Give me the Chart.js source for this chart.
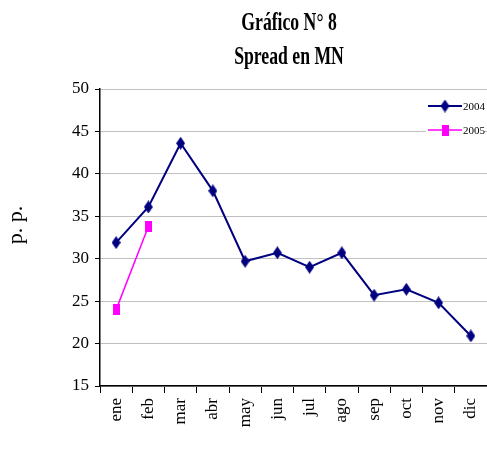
<!DOCTYPE html>
<html>
<head>
<meta charset="utf-8">
<script src="https://cdn.jsdelivr.net/npm/chart.js@4/dist/chart.umd.min.js"></script>
<style>
  html, body { margin: 0; padding: 0; background: #fff; }
  #wrap { width: 487px; height: 453px; }
</style>
</head>
<body>
<div id="wrap"><canvas id="spreadChart" width="487" height="453"></canvas></div>
<script>
const months = ["ene", "feb", "mar", "abr", "may", "jun", "jul", "ago", "sep", "oct", "nov", "dic"];
const spread2004 = [31.9, 36.1, 43.6, 38.0, 29.7, 30.7, 29.0, 30.7, 25.7, 26.4, 24.8, 20.9];
const spread2005 = [24.0, 33.8, null, null, null, null, null, null, null, null, null, null];
const yTickValues = [15, 20, 25, 30, 35, 40, 45, 50];

const serif = "'Liberation Serif', 'Times New Roman', serif";

// excel-like markers (taller than wide)
function marker(w, h, color, shape) {
  const c = document.createElement("canvas");
  c.width = w;
  c.height = h;
  const g = c.getContext("2d");
  g.fillStyle = color;
  if (shape === "diamond") {
    g.beginPath();
    g.moveTo(w / 2, 0);
    g.lineTo(w, h / 2);
    g.lineTo(w / 2, h);
    g.lineTo(0, h / 2);
    g.closePath();
    g.fill();
  } else {
    g.fillRect(0, 0, w, h);
  }
  return c;
}

const diamond = marker(9, 13, "#000080", "diamond");
const square = marker(7, 11, "#ff00ff", "rect");

const titlesPlugin = {
  id: "titles",
  afterDraw(chart) {
    const ctx = chart.ctx;
    ctx.save();
    ctx.fillStyle = "#000";
    ctx.textAlign = "center";
    ctx.textBaseline = "alphabetic";
    ctx.font = "bold 26px " + serif;
    ctx.translate(289, 0);
    ctx.scale(0.68, 1);
    ctx.fillText("Gráfico N° 8", 0, 30);
    ctx.fillText("Spread en MN", 0, 64);
    ctx.restore();

    ctx.save();
    ctx.fillStyle = "#000";
    ctx.font = "22px " + serif;
    ctx.textAlign = "center";
    ctx.translate(22, 225);
    ctx.rotate(-Math.PI / 2);
    ctx.fillText("p. p.", 0, 0);
    ctx.restore();
  }
};

const legendPlugin = {
  id: "boxLegend",
  afterDraw(chart) {
    const ctx = chart.ctx;
    ctx.save();
    ctx.fillStyle = "#fff";
    ctx.fillRect(426, 94, 58, 48);
    chart.data.datasets.forEach((ds, i) => {
      const y = 106 + i * 24;
      ctx.strokeStyle = ds.borderColor;
      ctx.lineWidth = ds.borderWidth;
      ctx.beginPath();
      ctx.moveTo(428, y);
      ctx.lineTo(462, y);
      ctx.stroke();
      const img = ds.pointStyle;
      ctx.drawImage(img, 445 - img.width / 2, y - img.height / 2);
      ctx.fillStyle = "#000";
      ctx.font = "11px " + serif;
      ctx.textBaseline = "middle";
      ctx.fillText(ds.label, 463, y + 1);
    });
    ctx.restore();
  }
};

const config = {
  type: "line",
  data: {
    labels: months,
    datasets: [
      {
        label: "2004",
        data: spread2004,
        borderColor: "#000080",
        backgroundColor: "#000080",
        borderWidth: 2,
        pointStyle: diamond,
        tension: 0
      },
      {
        label: "2005",
        data: spread2005,
        borderColor: "#ff00ff",
        backgroundColor: "#ff00ff",
        borderWidth: 1.5,
        pointStyle: square,
        tension: 0
      }
    ]
  },
  options: {
    responsive: false,
    animation: false,
    events: [],
    layout: { autoPadding: false, padding: { top: 89, right: -2, bottom: 0, left: 0 } },
    plugins: {
      legend: { display: false },
      title: { display: false },
      tooltip: { enabled: false }
    },
    scales: {
      x: {
        offset: true,
        afterFit: scale => {
          scale.height = 67;
          scale.paddingLeft = 0;
          scale.paddingRight = 0;
        },
        grid: {
          offset: true,
          drawOnChartArea: false,
          drawTicks: true,
          tickLength: 7,
          tickColor: "#000",
          tickWidth: 1
        },
        border: { display: true, color: "#000", width: 1.5 },
        ticks: {
          color: "#000",
          font: { family: serif, size: 17 },
          maxRotation: 90,
          minRotation: 90,
          padding: 5,
          autoSkip: false
        }
      },
      y: {
        min: 15,
        max: 50,
        afterFit: scale => { scale.width = 100; },
        afterBuildTicks: scale => { scale.ticks = yTickValues.map(v => ({ value: v })); },
        grid: {
          color: "#c0c0c0",
          lineWidth: 1,
          drawTicks: true,
          tickLength: 5,
          tickColor: "#000"
        },
        border: { display: true, color: "#000", width: 1.5 },
        ticks: {
          color: "#000",
          font: { family: serif, size: 17 },
          padding: 6
        }
      }
    }
  },
  plugins: [titlesPlugin, legendPlugin]
};

const ctx = document.getElementById("spreadChart").getContext("2d");
new Chart(ctx, config);
</script>
</body>
</html>
